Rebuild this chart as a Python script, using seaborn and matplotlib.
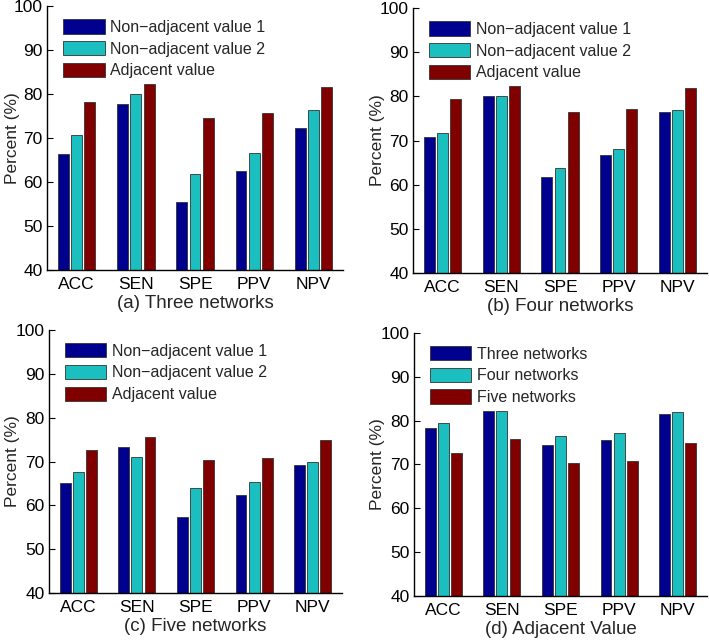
import matplotlib
matplotlib.use("Agg")
import matplotlib.pyplot as plt
import seaborn as sns
import pandas as pd

# ---------------- data ----------------
metrics = ["ACC", "SEN", "SPE", "PPV", "NPV"]

three_nonadj1 = [66.3, 77.7, 55.4, 62.5, 72.2]
three_nonadj2 = [70.7, 80.0, 61.8, 66.7, 76.4]
three_adj     = [78.3, 82.3, 74.5, 75.6, 81.5]

four_nonadj1 = [70.7, 80.0, 61.8, 66.7, 76.4]
four_nonadj2 = [71.8, 80.0, 63.8, 68.0, 76.9]
four_adj     = [79.4, 82.3, 76.5, 77.1, 81.9]

five_nonadj1 = [65.2, 73.4, 57.4, 62.3, 69.2]
five_nonadj2 = [67.5, 71.1, 63.9, 65.4, 69.8]
five_adj     = [72.7, 75.7, 70.3, 70.9, 75.0]

series_labels_abc = ["Non\u2212adjacent value 1", "Non\u2212adjacent value 2", "Adjacent value"]
series_labels_d = ["Three networks", "Four networks", "Five networks"]

panel_titles = ["(a) Three networks", "(b) Four networks",
                "(c) Five networks", "(d) Adjacent Value"]

panels = [
    (series_labels_abc, [three_nonadj1, three_nonadj2, three_adj]),
    (series_labels_abc, [four_nonadj1, four_nonadj2, four_adj]),
    (series_labels_abc, [five_nonadj1, five_nonadj2, five_adj]),
    (series_labels_d, [three_adj, four_adj, five_adj]),
]

colors = ["#00008F", "#1CBFBF", "#800000"]

# ---------------- figure ----------------
sns.set_theme(style="white")
plt.rcParams["font.family"] = ["Liberation Sans", "DejaVu Sans"]

fig = plt.figure(figsize=(7.09, 6.40), dpi=100)

positions = [
    [0.0663, 0.578, 0.4175, 0.4125],
    [0.5825, 0.5734, 0.4147, 0.414],
    [0.0691, 0.0734, 0.4133, 0.411],
    [0.5839, 0.0688, 0.4133, 0.411],
]
ylabel_x = [-0.091, -0.095, -0.098, -0.098]

for pos, (labels, series), title, ylx in zip(positions, panels, panel_titles, ylabel_x):
    ax = fig.add_axes(pos)
    rows = []
    for lab, vals in zip(labels, series):
        for m, v in zip(metrics, vals):
            rows.append({"metric": m, "series": lab, "value": v})
    df = pd.DataFrame(rows)
    sns.barplot(data=df, x="metric", y="value", hue="series",
                hue_order=labels, order=metrics,
                palette=colors, width=0.67, gap=0.17,
                edgecolor="#333333", linewidth=0.6, ax=ax,
                errorbar=None, saturation=1)
    ax.set_ylim(40, 100)
    ax.set_xlim(-0.5, 4.5)
    ax.set_yticks([40, 50, 60, 70, 80, 90, 100])
    ax.set_ylabel("Percent (%)", fontsize=12.5)
    ax.yaxis.set_label_coords(ylx, 0.5)
    ax.set_xlabel(title, fontsize=13.5, labelpad=2)
    for s in ["top", "right"]:
        ax.spines[s].set_visible(False)
    for s in ["left", "bottom"]:
        ax.spines[s].set_color("black")
        ax.spines[s].set_linewidth(1.0)
    ax.tick_params(axis="y", direction="in", length=4, width=0.8,
                   labelsize=12.5, pad=3, left=True, colors="black")
    ax.tick_params(axis="x", direction="in", length=0, labelsize=12.5, pad=5,
                   colors="black")
    handles, labs = ax.get_legend_handles_labels()
    ax.legend(handles, labs, loc="upper left",
              bbox_to_anchor=(0.054, 0.95), borderaxespad=0,
              frameon=False, fontsize=11.5, handlelength=2.6,
              handleheight=1.0, labelspacing=0.38, handletextpad=0.35,
              borderpad=0)

fig.savefig("out.png", dpi=100)
